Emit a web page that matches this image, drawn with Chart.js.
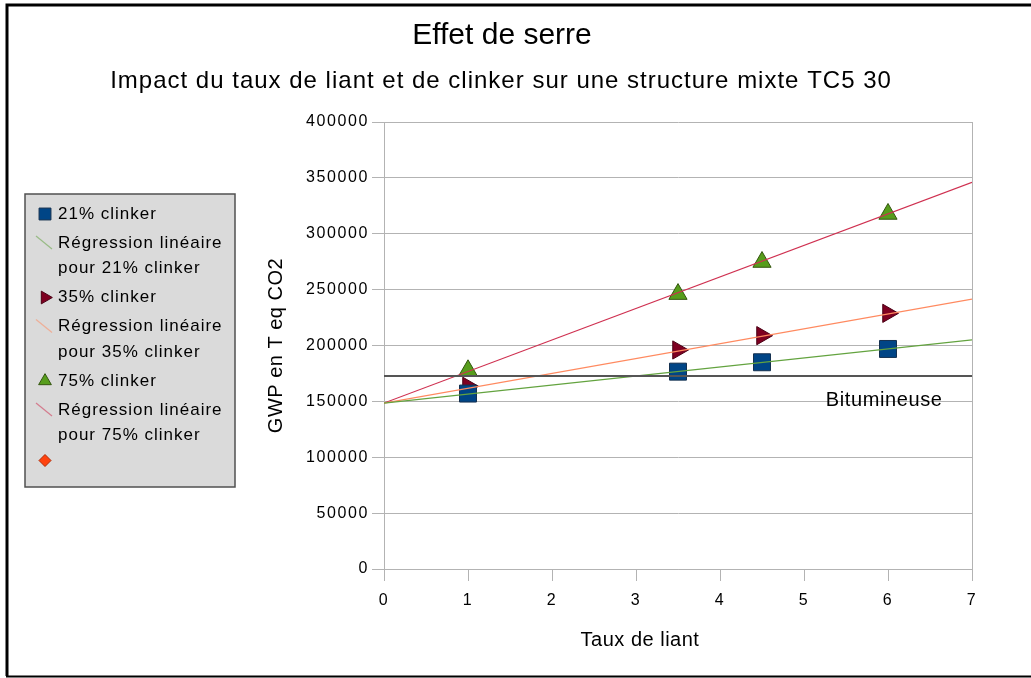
<!DOCTYPE html>
<html>
<head>
<meta charset="utf-8">
<script src="https://cdn.jsdelivr.net/npm/chart.js@4"></script>
<style>
  body { margin: 0; background: #fff; }
  canvas { display: block; }
</style>
</head>
<body>
<canvas id="chart" width="1031" height="678"></canvas>
<script>
var titleText = "Effet de serre";
var subtitleText = "Impact du taux de liant et de clinker sur une structure mixte TC5 30";
var xTitle = "Taux de liant";
var yTitle = "GWP en T eq CO2";

var xTicks = [0, 1, 2, 3, 4, 5, 6, 7];
var yTicks = [0, 50000, 100000, 150000, 200000, 250000, 300000, 350000, 400000];

// measured points (taux de liant -> GWP)
var tauxLiant = [1, 3.5, 4.5, 6];
var clinker21 = [157000, 176600, 185000, 196900];
var clinker35 = [163500, 196000, 208800, 228800];
var clinker75 = [177800, 246000, 274700, 317700];

// regression lines, read at both ends of the axis
var regX = [0, 7];
var reg21 = [148500, 205000];
var reg35 = [148500, 241500];
var reg75 = [148500, 346000];

// reference line
var bitX = [0, 7];
var bitY = [172700, 172700];
var bitLabel = "Bitumineuse";
var bitLabelAt = [5.26, 145900];

var FONT = "'Liberation Sans', Arial, sans-serif";

function pts(xs, ys) {
    return xs.map(function (x, i) { return { x: x, y: ys[i] }; });
}

function markerSet(label, ys, style, rot, radius, fill, border, order) {
    return {
        label: label,
        data: pts(tauxLiant, ys),
        showLine: false,
        pointStyle: style,
        pointRotation: rot,
        pointRadius: radius,
        pointHoverRadius: radius,
        pointBackgroundColor: fill,
        pointBorderColor: border,
        pointBorderWidth: 1,
        backgroundColor: fill,
        borderColor: border,
        legendRadius: radius * 0.7,
        order: order
    };
}

function lineSet(label, xs, ys, color, width, order) {
    return {
        label: label,
        data: pts(xs, ys),
        showLine: true,
        pointRadius: 0,
        pointHoverRadius: 0,
        borderColor: color,
        backgroundColor: color,
        borderWidth: width,
        order: order
    };
}

var datasets = [
    markerSet("21% clinker", clinker21, 'rect', 0, 12, '#004586', '#14304f', 4),
    lineSet("Régression linéaire\npour 21% clinker", regX, reg21, '#63a33f', 1.2, 1),
    markerSet("35% clinker", clinker35, 'triangle', 90, 10.5, '#7e0021', '#4a0014', 6),
    lineSet("Régression linéaire\npour 35% clinker", regX, reg35, '#ff8a60', 1.2, 2),
    markerSet("75% clinker", clinker75, 'triangle', 0, 10.5, '#579d1c', '#34560f', 5),
    lineSet("Régression linéaire\npour 75% clinker", regX, reg75, '#cf3050', 1.2, 3),
    {
        label: "", data: [], showLine: false, pointStyle: 'rectRot',
        pointBackgroundColor: '#ff420e', pointBorderColor: '#b02a05',
        backgroundColor: '#ff420e', borderColor: '#b02a05', legendRadius: 6, order: 7
    },
    lineSet(bitLabel, bitX, bitY, '#555555', 2, 0)
];
datasets[7].inLegend = false;

function txt(ctx, s, x, y, size, spacing, align, baseline) {
    ctx.font = size + "px " + FONT;
    ctx.letterSpacing = spacing + "px";
    ctx.textAlign = align;
    ctx.textBaseline = baseline;
    ctx.fillStyle = '#000';
    ctx.fillText(s, x, y);
}

var extras = {
    id: 'extras',
    beforeDraw: function (chart) {
        var ctx = chart.ctx;
        ctx.save();
        ctx.fillStyle = '#fff';
        ctx.fillRect(0, 0, chart.width, chart.height);
        ctx.restore();
        // tick labels are drawn wide in the original
        ctx.letterSpacing = "1.6px";
    },
    beforeDatasetsDraw: function (chart) {
        var ctx = chart.ctx, a = chart.chartArea;
        ctx.save();
        ctx.strokeStyle = '#b3b3b3';
        ctx.lineWidth = 1;
        ctx.beginPath();
        ctx.moveTo(a.right + 0.5, a.top);
        ctx.lineTo(a.right + 0.5, a.bottom);
        ctx.stroke();
        ctx.restore();
    },
    afterDraw: function (chart) {
        var ctx = chart.ctx, a = chart.chartArea;
        var xs = chart.scales.x, ys = chart.scales.y;
        ctx.save();

        txt(ctx, titleText, 502, 43.5, 30, 0, 'center', 'alphabetic');
        txt(ctx, subtitleText, 501, 88, 24, 1, 'center', 'alphabetic');
        txt(ctx, xTitle, 640, 640, 20, 0.5, 'center', 'middle');

        ctx.save();
        ctx.translate(276, (a.top + a.bottom) / 2);
        ctx.rotate(-Math.PI / 2);
        txt(ctx, yTitle, 0, 0, 20, 0.5, 'center', 'middle');
        ctx.restore();

        txt(ctx, bitLabel, xs.getPixelForValue(bitLabelAt[0]), ys.getPixelForValue(bitLabelAt[1]), 20, 0.6, 'left', 'alphabetic');

        // legend box
        ctx.fillStyle = '#dadada';
        ctx.fillRect(25, 194, 210, 293);
        ctx.strokeStyle = '#505050';
        ctx.lineWidth = 1.5;
        ctx.strokeRect(25, 194, 210, 293);

        var y = 214;
        chart.data.datasets.forEach(function (ds) {
            if (ds.inLegend === false) return;
            var lines = ds.label ? ds.label.split("\n") : [""];
            if (ds.showLine) {
                ctx.save();
                ctx.globalAlpha = 0.55;
                ctx.strokeStyle = ds.borderColor;
                ctx.lineWidth = 1.2;
                ctx.beginPath();
                ctx.moveTo(36, y - 7);
                ctx.lineTo(52, y + 6);
                ctx.stroke();
                ctx.restore();
            } else {
                ctx.fillStyle = ds.pointBackgroundColor;
                ctx.strokeStyle = ds.pointBorderColor;
                ctx.lineWidth = 1;
                Chart.helpers.drawPoint(ctx, {
                    pointStyle: ds.pointStyle,
                    rotation: ds.pointRotation || 0,
                    radius: ds.legendRadius,
                    borderWidth: 1
                }, 45, lines[0] ? y : y - 4);
            }
            lines.forEach(function (l, i) {
                if (l) txt(ctx, l, 58, y, 17, 1, 'left', 'middle');
                if (i < lines.length - 1) y += 25.5;
            });
            y += 29;
        });

        // outer frame
        ctx.strokeStyle = '#000';
        ctx.lineWidth = 3;
        ctx.beginPath();
        ctx.moveTo(7, 676);
        ctx.lineTo(7, 5);
        ctx.lineTo(1031, 5);
        ctx.stroke();
        ctx.lineWidth = 2;
        ctx.beginPath();
        ctx.moveTo(6, 676.5);
        ctx.lineTo(1031, 676.5);
        ctx.stroke();

        ctx.restore();
    }
};

var tickFont = { family: FONT, size: 16 };

new Chart(document.getElementById('chart'), {
    type: 'scatter',
    data: { datasets: datasets },
    options: {
        responsive: false,
        animation: false,
        devicePixelRatio: 1,
        layout: { padding: { left: 248, top: 122, right: 59, bottom: 0 } },
        plugins: {
            legend: { display: false },
            tooltip: { enabled: false },
            title: { display: false }
        },
        scales: {
            x: {
                type: 'linear',
                min: 0,
                max: 7,
                afterBuildTicks: function (s) { s.ticks = xTicks.map(function (v) { return { value: v }; }); },
                afterFit: function (s) { s.height = 109; },
                grid: { drawOnChartArea: false, color: '#b3b3b3', tickLength: 12 },
                border: { color: '#b3b3b3' },
                ticks: { color: '#000', font: tickFont, padding: 10, callback: function (v) { return String(v); } }
            },
            y: {
                type: 'linear',
                min: 0,
                max: 400000,
                afterBuildTicks: function (s) { s.ticks = yTicks.map(function (v) { return { value: v }; }); },
                afterFit: function (s) { s.width = 136; },
                grid: { color: '#b3b3b3', tickLength: 12 },
                border: { color: '#b3b3b3' },
                ticks: { color: '#000', font: tickFont, padding: 3, callback: function (v) { return String(v); } }
            }
        }
    },
    plugins: [extras]
});
</script>
</body>
</html>
